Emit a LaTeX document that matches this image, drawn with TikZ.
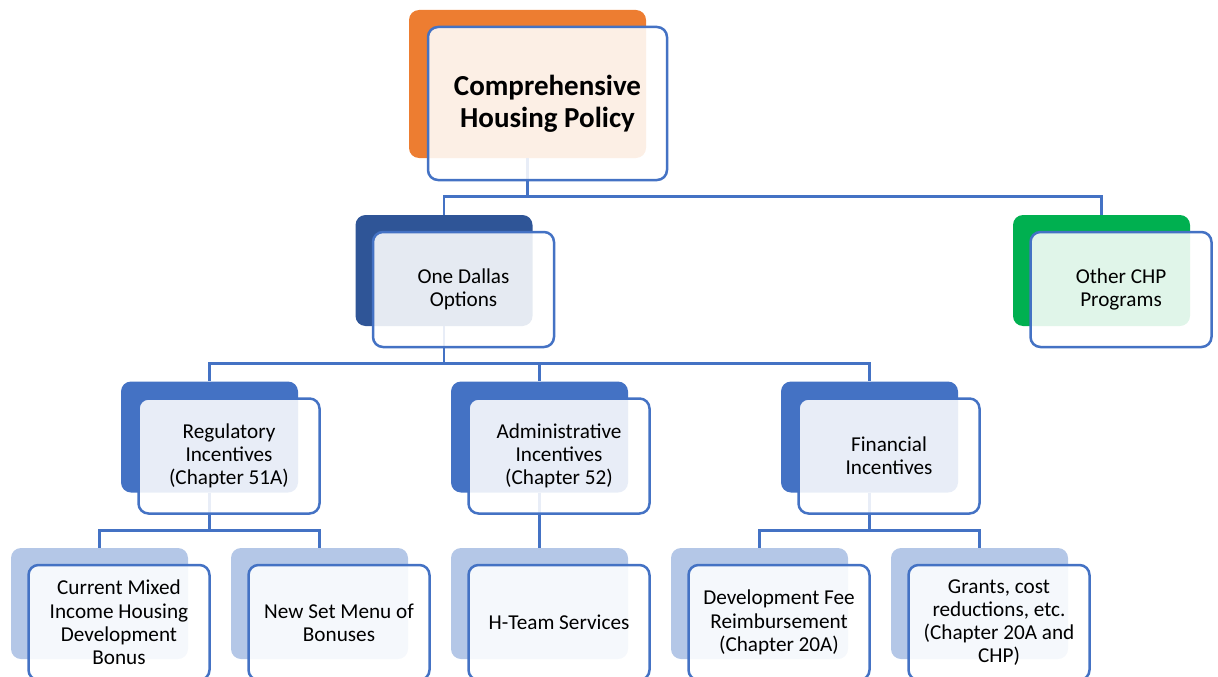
\documentclass[tikz,border=0pt]{standalone}
\usepackage{fontspec}
\setmainfont{Carlito}
\definecolor{chporange}{HTML}{ED7D31}
\definecolor{chpnavy}{HTML}{2F5597}
\definecolor{chpgreen}{HTML}{00B050}
\definecolor{chpblue}{HTML}{4472C4}
\definecolor{chplight}{HTML}{B4C7E7}
\tikzset{
  backbox/.style={rectangle, rounded corners=10pt, minimum width=177pt,
    minimum height=111pt, inner sep=0pt, fill=#1},
  frontbox/.style={rectangle, rounded corners=10pt, draw=chpblue, line width=2.5pt,
    fill=white, fill opacity=0.88, text opacity=1, minimum width=181pt,
    minimum height=115pt, inner sep=0pt, align=center, xshift=19.5pt, yshift=-19pt,
    font=\fontsize{21.2}{23.2}\selectfont},
  link/.style={draw=chpblue, line width=2.6pt}
}

\begin{document}
\begin{tikzpicture}[x=1pt, y=-1pt]
  \useasboundingbox (0,0) rectangle (1218,677);

  % back panels
  \node[backbox=chporange, minimum width=237pt, minimum height=148pt] (chp-b) at (527.5,84) {};
  \node[backbox=chpnavy] (od-b) at (444,270.5) {};
  \node[backbox=chpgreen] (oth-b) at (1101.5,270.5) {};
  \node[backbox=chpblue] (reg-b) at (209.5,437) {};
  \node[backbox=chpblue] (adm-b) at (539.5,437) {};
  \node[backbox=chpblue] (fin-b) at (869.5,437) {};
  \node[backbox=chplight] (cur-b) at (99.5,603.5) {};
  \node[backbox=chplight] (new-b) at (319.5,603.5) {};
  \node[backbox=chplight] (hteam-b) at (539.5,603.5) {};
  \node[backbox=chplight] (dev-b) at (759.5,603.5) {};
  \node[backbox=chplight] (grant-b) at (979.5,603.5) {};

  % links
  \draw[link] (chp-b.south) -- ++(0,38) -| (od-b.north);
  \draw[link] (chp-b.south) ++(0,38) -| (oth-b.north);
  \draw[link] (od-b.south) -- ++(0,37) -| (reg-b.north);
  \draw[link] (od-b.south) ++(0,37) -| (adm-b.north);
  \draw[link] (od-b.south) ++(0,37) -| (fin-b.north);
  \draw[link] (reg-b.south) -- ++(0,38) -| (cur-b.north);
  \draw[link] (reg-b.south) ++(0,38) -| (new-b.north);
  \draw[link] (adm-b.south) -- (hteam-b.north);
  \draw[link] (fin-b.south) -- ++(0,38) -| (dev-b.north);
  \draw[link] (fin-b.south) ++(0,38) -| (grant-b.north);

  % front boxes
  \node[frontbox, minimum width=239pt, minimum height=153pt, xshift=0.5pt, yshift=-0.5pt,
    font=\bfseries\fontsize{29}{32}\selectfont] (chp) at (chp-b) {Comprehensive\\Housing Policy};
  \node[frontbox] (od) at (od-b) {One Dallas\\Options};
  \node[frontbox] (oth) at (oth-b) {Other CHP\\Programs};
  \node[frontbox] (reg) at (reg-b) {Regulatory\\Incentives\\(Chapter 51A)};
  \node[frontbox] (adm) at (adm-b) {Administrative\\Incentives\\(Chapter 52)};
  \node[frontbox] (fin) at (fin-b) {Financial\\Incentives};
  \node[frontbox] (cur) at (cur-b) {Current Mixed\\Income Housing\\Development\\Bonus};
  \node[frontbox] (new) at (new-b) {New Set Menu of\\Bonuses};
  \node[frontbox] (hteam) at (hteam-b) {H-Team Services};
  \node[frontbox] (dev) at (dev-b) {Development Fee\\Reimbursement\\(Chapter 20A)};
  \node[frontbox] (grant) at (grant-b) {Grants, cost\\reductions, etc.\\(Chapter 20A and\\CHP)};
\end{tikzpicture}
\end{document}
